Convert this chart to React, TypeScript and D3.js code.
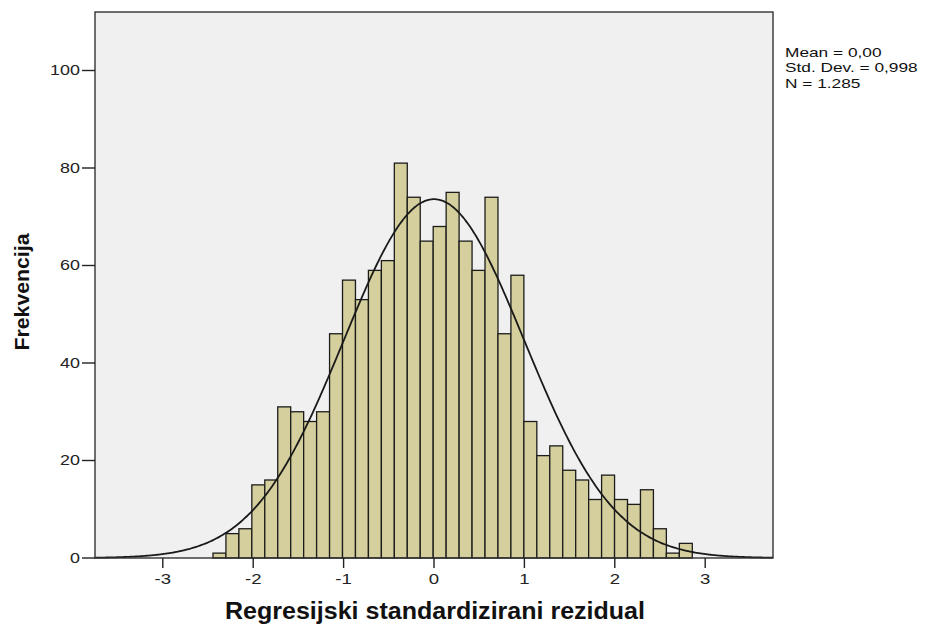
import * as d3 from "d3"

// Histogram of standardized regression residuals (SPSS style)
const binStart = -2.445
const binWidth = 0.1433
const counts = [
  1, 5, 6, 15, 16, 31, 30, 28, 30, 46, 57, 53, 59, 61, 81, 74, 65, 68, 75, 65, 59, 74, 46, 58, 28, 21, 23,
  18, 16, 12, 17, 12, 11, 14, 6, 1, 3,
]
const xTicks = [-3, -2, -1, 0, 1, 2, 3]
const yTicks = [0, 20, 40, 60, 80, 100]
const statLines = ["Mean = 0,00", "Std. Dev. = 0,998", "N = 1.285"]
const mean = 0
const sd = 0.998
const n = 1285

const W = 927
const H = 624
const margin = { top: 12, right: 154, bottom: 66, left: 95 }
const font = "Arial, 'Liberation Sans', sans-serif"
// the original raster looks stretched horizontally
const SX = 1.28

export default function App() {
  const x = d3.scaleLinear().domain([-3.75, 3.75]).range([margin.left, W - margin.right])
  const y = d3.scaleLinear().domain([0, 112]).range([H - margin.bottom, margin.top])

  const bins = counts.map((c, i) => ({ x0: binStart + i * binWidth, x1: binStart + (i + 1) * binWidth, c }))

  // normal curve scaled to the histogram
  const xs = d3.range(-3.75, 3.7501, 0.02)
  const curve = d3
    .line<number>()
    .x((v) => x(v))
    .y((v) => y(((n * binWidth) / (sd * Math.sqrt(2 * Math.PI))) * Math.exp(-0.5 * ((v - mean) / sd) ** 2)))
    .curve(d3.curveBasis)

  const x0 = margin.left
  const x1 = W - margin.right
  const y0 = H - margin.bottom

  return (
    <svg width={W} height={H} style={{ position: "absolute", left: 0, top: 0 }} fontFamily={font}>
      <rect x={0} y={0} width={W} height={H} fill="#fff" />
      <rect x={x0} y={margin.top} width={x1 - x0} height={y0 - margin.top} fill="#f0f0f0" />
      {bins.map((b, i) => (
        <rect
          key={i}
          x={x(b.x0)}
          y={y(b.c)}
          width={x(b.x1) - x(b.x0)}
          height={y0 - y(b.c)}
          fill="#d4cf9c"
          stroke="#1c1c1c"
          strokeWidth={1.3}
        />
      ))}
      <path d={curve(xs) ?? ""} fill="none" stroke="#1a1a1a" strokeWidth={1.8} />
      <rect x={x0} y={margin.top} width={x1 - x0} height={y0 - margin.top} fill="none" stroke="#333" strokeWidth={1.4} />

      {yTicks.map((t) => (
        <g key={t} transform={`translate(${x0},${y(t)})`}>
          <line x1={-13} x2={0} stroke="#222" strokeWidth={1.4} />
          <text transform={`translate(-15,0) scale(${SX},1)`} dy="0.35em" textAnchor="end" fontSize={14} fill="#222">
            {t}
          </text>
        </g>
      ))}
      {xTicks.map((t) => (
        <g key={t} transform={`translate(${x(t)},${y0})`}>
          <line y1={0} y2={10} stroke="#222" strokeWidth={1.4} />
          <text transform={`translate(0,26) scale(${SX},1)`} textAnchor="middle" fontSize={14.5} fill="#222">
            {t}
          </text>
        </g>
      ))}

      <text
        transform={`translate(29,292) rotate(-90)`}
        textAnchor="middle"
        fontSize={20}
        fontWeight="bold"
        fill="#111"
        textLength={117}
        lengthAdjust="spacingAndGlyphs"
      >
        Frekvencija
      </text>
      <text
        x={435}
        y={619}
        textAnchor="middle"
        fontSize={23}
        fontWeight="bold"
        fill="#111"
        textLength={420}
        lengthAdjust="spacingAndGlyphs"
      >
        Regresijski standardizirani rezidual
      </text>

      {statLines.map((s, i) => (
        <text key={s} transform={`translate(785,${57 + i * 15.3}) scale(${SX},1)`} fontSize={13.5} fill="#111">
          {s}
        </text>
      ))}
    </svg>
  )
}
